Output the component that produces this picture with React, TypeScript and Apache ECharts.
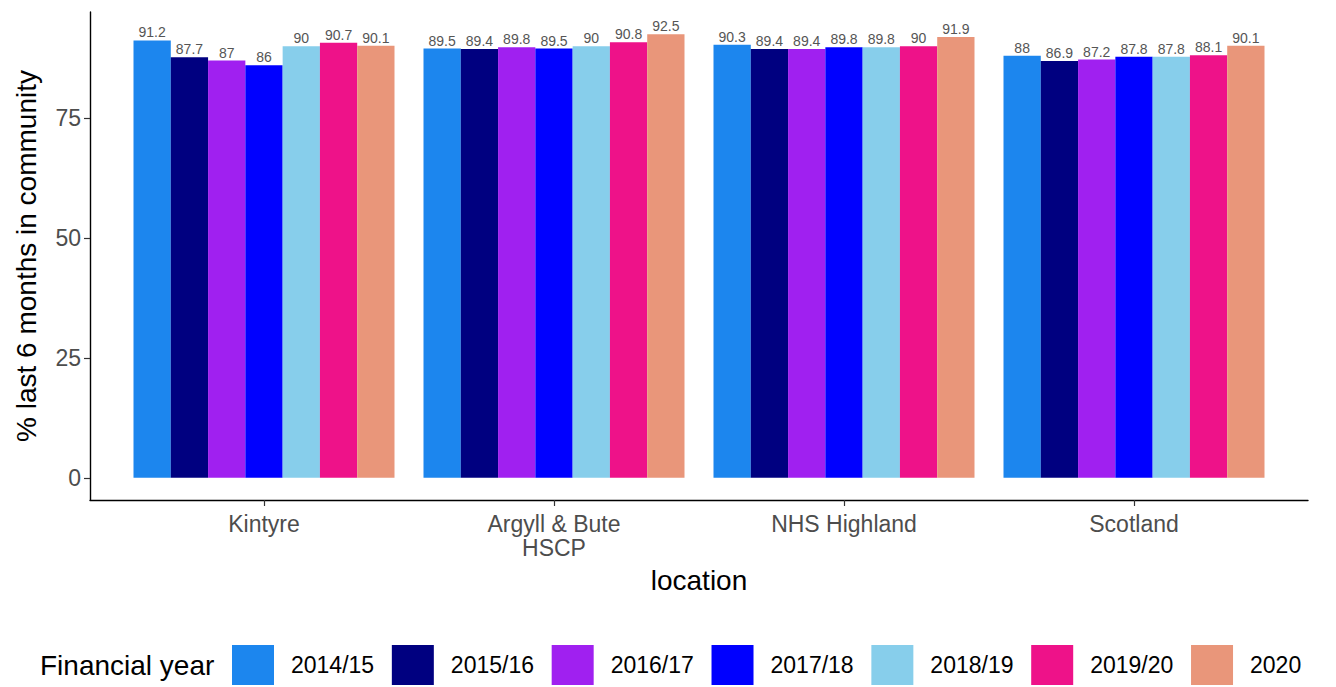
import React, { useEffect, useRef } from "react";
import * as echarts from "echarts";

const locations = ["Kintyre", "Argyll & Bute\nHSCP", "NHS Highland", "Scotland"];
const years = ["2014/15", "2015/16", "2016/17", "2017/18", "2018/19", "2019/20", "2020"];
const colors = ["#1C86EE", "#000080", "#A020F0", "#0000FF", "#87CEEB", "#EE1289", "#E9967A"];
const kintyre = [91.2, 87.7, 87, 86, 90, 90.7, 90.1];
const argyll = [89.5, 89.4, 89.8, 89.5, 90, 90.8, 92.5];
const highland = [90.3, 89.4, 89.4, 89.8, 89.8, 90, 91.9];
const scotland = [88, 86.9, 87.2, 87.8, 87.8, 88.1, 90.1];
const yTicks = [0, 25, 50, 75];

const FONT = "Liberation Sans";

export default function App() {
  const ref = useRef<HTMLDivElement>(null);
  useEffect(() => {
    const chart = echarts.init(ref.current!, null, { renderer: "svg" });
    const table = [kintyre, argyll, highland, scotland];
    const series = years.map((y, j) => ({
      name: y,
      type: "bar",
      barGap: "0%",
      barCategoryGap: "10%",
      itemStyle: { color: colors[j] },
      label: {
        show: true,
        position: "top",
        distance: 1,
        fontFamily: FONT,
        fontSize: 14,
        color: "#555555",
        formatter: (p: any) => String(p.value[1]),
      },
      data: locations.map((_, i) => [i + 1, table[i][j]]),
    }));
    chart.setOption({
      animation: false,
      textStyle: { fontFamily: FONT },
      grid: { left: 90, right: 28, top: 12, bottom: 187, containLabel: false },
      xAxis: {
        type: "value",
        min: 0.4,
        max: 4.6,
        name: "location",
        nameLocation: "middle",
        nameGap: 66,
        nameTextStyle: { fontFamily: FONT, fontSize: 28, color: "#000" },
        axisLine: { show: true, onZero: false, lineStyle: { color: "#000", width: 1.4 } },
        axisTick: { show: true, length: 6, customValues: [1, 2, 3, 4], lineStyle: { color: "#333", width: 1.2 } },
        axisLabel: {
          customValues: [1, 2, 3, 4],
          formatter: (v: number) => locations[Math.round(v) - 1] ?? "",
          fontFamily: FONT,
          fontSize: 23,
          color: "#4D4D4D",
          lineHeight: 24,
          margin: 12,
        },
        splitLine: { show: false },
      },
      yAxis: {
        type: "value",
        min: -4.625,
        max: 97.125,
        name: "% last 6 months in community",
        nameLocation: "middle",
        nameGap: 50,
        nameTextStyle: { fontFamily: FONT, fontSize: 28, color: "#000" },
        axisLine: { show: true, onZero: false, lineStyle: { color: "#000", width: 1.4 } },
        axisTick: { show: true, length: 6, customValues: yTicks, lineStyle: { color: "#333", width: 1.2 } },
        axisLabel: {
          customValues: yTicks,
          fontFamily: FONT,
          fontSize: 23,
          color: "#4D4D4D",
          margin: 9,
        },
        splitLine: { show: false },
      },
      legend: {
        left: 227,
        top: 640,
        itemWidth: 42,
        itemHeight: 40,
        itemGap: 17.7,
        icon: "rect",
        data: years,
        textStyle: { fontFamily: FONT, fontSize: 23, color: "#000", padding: [0, 0, 0, 12] },
      },
      graphic: [
        {
          type: "text",
          x: 40,
          y: 665,
          style: {
            text: "Financial year",
            fontFamily: FONT,
            fontSize: 28,
            fill: "#000",
            verticalAlign: "middle",
          },
        },
      ],
      series,
    });
    return () => chart.dispose();
  }, []);
  return (
    <div
      ref={ref}
      style={{ position: "fixed", left: 0, top: 0, width: 1336, height: 687, background: "#fff" }}
    />
  );
}
